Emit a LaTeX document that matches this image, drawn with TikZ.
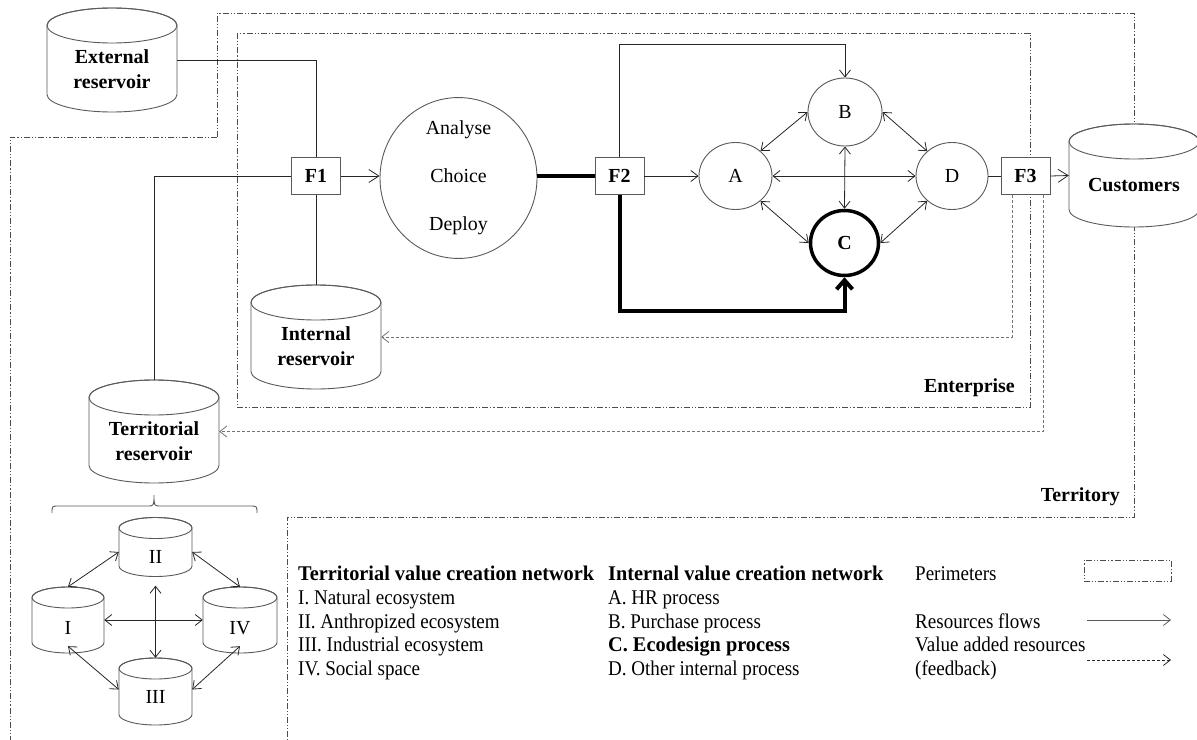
\documentclass[tikz,border=0pt]{standalone}
\usepackage{fontspec}
\setmainfont{Liberation Serif}
\newfontfamily\legreg[FakeStretch=0.91]{Liberation Serif}
\newfontfamily\legbold[FakeStretch=0.97]{Liberation Serif}
\usetikzlibrary{arrows.meta,shapes.geometric,calc}

\newcommand\drawcyl[6]{%
  \node[minimum width=#4bp, minimum height=#5bp] (#1) at (#2,#3) {};
  \draw[shp,fill=white] ({#2-#4/2},{#3-#5/2+#6}) -- ({#2-#4/2},{#3+#5/2-#6})
     arc[start angle=180,end angle=0,x radius={#4/2},y radius=#6]
     -- ({#2+#4/2},{#3-#5/2+#6})
     arc[start angle=0,end angle=-180,x radius={#4/2},y radius=#6] -- cycle;
  \draw[shp] (#2,{#3-#5/2+#6}) ellipse[x radius={#4/2}, y radius=#6];
}

\begin{document}
\begin{tikzpicture}[x=1bp,y=-1bp,
  every node/.style={font=\fontsize{20}{25}\selectfont, inner sep=0pt},
  bf/.style={font=\fontsize{20}{25}\selectfont\bfseries},
  >={Straight Barb[length=7bp,width=11bp]},
  shp/.style={draw=black!65, line width=0.9bp},
  conn/.style={draw=black!85, line width=0.8bp},
  thickconn/.style={draw=black, line width=4bp},
  perim/.style={draw=black!70, line width=0.8bp, dash pattern=on 6bp off 2bp on 1.2bp off 2bp on 1.2bp off 2bp},
  fb/.style={draw=black!55, line width=0.8bp, dash pattern=on 3bp off 2bp},
  fbox/.style={shp, fill=white, rectangle, minimum width=49bp, minimum height=37bp, bf},
  proc/.style={shp, fill=white, ellipse, minimum width=73bp, minimum height=67bp},
  bigtip/.style={-{Straight Barb[length=10bp,width=13bp]}},
  legtxt/.style={anchor=base west, font=\legreg\fontsize{21}{24}\selectfont},
  legbf/.style={anchor=base west, font=\legbold\fontsize{21}{24}\selectfont\bfseries}
]
\useasboundingbox (0,0) rectangle (1197,740);

% ---------- perimeters
\draw[perim] (217,137) -- (217,13) -- (1134,13) -- (1134,517) -- (287,517) -- (287,740);
\draw[perim] (217,137) -- (10,137) -- (10,740);
\draw[perim] (237,33) rectangle (1030,407);
\node[bf, anchor=east] (entlab) at (1015,388) {Enterprise};
\node[bf, anchor=east] (terlab) at (1120,497) {Territory};

% ---------- reservoirs
\drawcyl{ext}{112}{60}{130}{104}{17.5}
\node[bf, align=center] (extt) at (112,69) {External\\reservoir};
\drawcyl{int}{316}{337}{130}{104}{17.5}
\node[bf, align=center] (intt) at (316,346) {Internal\\reservoir};
\drawcyl{ter}{154}{431.5}{130}{103}{17.5}
\node[bf, align=center] (tert) at (154,441) {Territorial\\reservoir};
\drawcyl{cust}{1134}{175.5}{130}{103}{17.5}
\node[bf] (custt) at (1134,185) {Customers};

% ---------- territorial network
\drawcyl{II}{155.5}{547}{73}{59}{10.5}
\node (IIt) at (155.5,557) {II};
\drawcyl{I}{68}{620}{72}{66}{10.5}
\node (It) at (68,628) {I};
\drawcyl{IV}{240}{620}{74}{66}{10.5}
\node (IVt) at (240,628) {IV};
\drawcyl{III}{155.5}{691.5}{73}{67}{10.5}
\node (IIIt) at (155.5,697) {III};

\draw[shp] (52,513) .. controls (52,506) .. (59,506) -- (147,506)
   .. controls (154,506) .. (154,495) .. controls (154,506) .. (161,506)
   -- (250,506) .. controls (257,506) .. (257,513);

\draw[conn,<->] ([yshift=-5bp]II.west) -- (I.north);
\draw[conn,<->] ([yshift=-5bp]II.east) -- (IV.north);
\draw[conn,<->] ([yshift=7bp]I.south) -- ([yshift=2bp]III.west);
\draw[conn,<->] ([yshift=7bp]IV.south) -- ([yshift=2bp]III.east);
\draw[conn,<->] (I.east) -- (IV.west);
\draw[conn,<->] ([yshift=-9bp]II.south) -- (III.north);

% ---------- enterprise nodes
\node[fbox] (F1) at (316,176) {F1};
\node[fbox] (F2) at (619.5,176) {F2};
\node[fbox] (F3) at (1025.5,176) {F3};
\node[shp, ellipse, minimum width=157bp, minimum height=152bp, align=center,
      font=\fontsize{20}{48}\selectfont] (an) at (458.5,178) {Analyse\\Choice\\Deploy};
\node[proc] (A) at (735.5,176) {A};
\node[proc, minimum width=74bp, minimum height=68bp] (B) at (845,112) {B};
\node[proc, minimum width=72bp] (D) at (952,176) {D};
\node[proc, draw=black, line width=3.5bp, minimum width=68bp, minimum height=65bp, bf] (C) at (844.5,243) {C};

% ---------- connectors
\draw[conn] (ext.east) -| (F1.north);
\draw[conn] (F1.west) -| (ter.north);
\draw[conn] (F1.south) -- (int.north);
\draw[conn,bigtip] (F1.east) -- (an.west |- F1.east);
\draw[thickconn] (an.east |- F2.west) -- (F2.west);
\draw[conn,->] (F2.east) -- (A.west);
\draw[conn,->] (F2.north) |- ([yshift=33bp]B.north) -- (B.north);
\draw[thickconn, -{Straight Barb[length=9bp,width=16bp]}] (F2.south) |- ([yshift=-34bp]C.south) -- (C.south);
\draw[conn,<->] (A.45) -- (B.west);
\draw[conn,<->] (A.east) -- (D.west);
\draw[conn,<->] (A.-45) -- (C.west);
\draw[conn,<->] (B.east) -- (D.135);
\draw[conn,<->] (B.south) -- (C.north);
\draw[conn,<->] (C.east) -- (D.-135);
\draw[conn] (D.east) -- (F3.west);
\draw[conn,bigtip] (F3.east) -- (cust.west);
\draw[fb,->] ([xshift=-13.5bp]F3.south) |- (int.east);
\draw[fb,->] ([xshift=17.5bp]F3.south) |- (ter.east);

% ---------- legend
\node[legbf] (l11) at (298,580) {Territorial value creation network};
\node[legtxt] (l12) at (298,604.5) {I. Natural ecosystem};
\node[legtxt] (l13) at (298,628) {II. Anthropized ecosystem};
\node[legtxt] (l14) at (298,651.5) {III. Industrial ecosystem};
\node[legtxt] (l15) at (298,675) {IV. Social space};
\node[legbf] (l21) at (608,580) {Internal value creation network};
\node[legtxt] (l22) at (608,604.5) {A. HR process};
\node[legtxt] (l23) at (608,628) {B. Purchase process};
\node[legbf] (l24) at (608,651.5) {C. Ecodesign process};
\node[legtxt] (l25) at (608,675) {D. Other internal process};
\node[legtxt] (l31) at (915,580) {Perimeters};
\node[legtxt] (l33) at (915,628) {Resources flows};
\node[legtxt] (l34) at (915,651.5) {Value added resources};
\node[legtxt] (l35) at (915,675) {(feedback)};
\node[perim, minimum width=87bp, minimum height=21bp] (lbox) at (1127.5,570.5) {};
\coordinate (la1) at (1087,620);
\coordinate (la2) at (1171,620);
\coordinate (lb1) at (1087,660);
\coordinate (lb2) at (1171,660);
\draw[conn,draw=black!65,->] (la1) -- (la2);
\draw[conn,dash pattern=on 3bp off 2bp,->] (lb1) -- (lb2);
\end{tikzpicture}
\end{document}
